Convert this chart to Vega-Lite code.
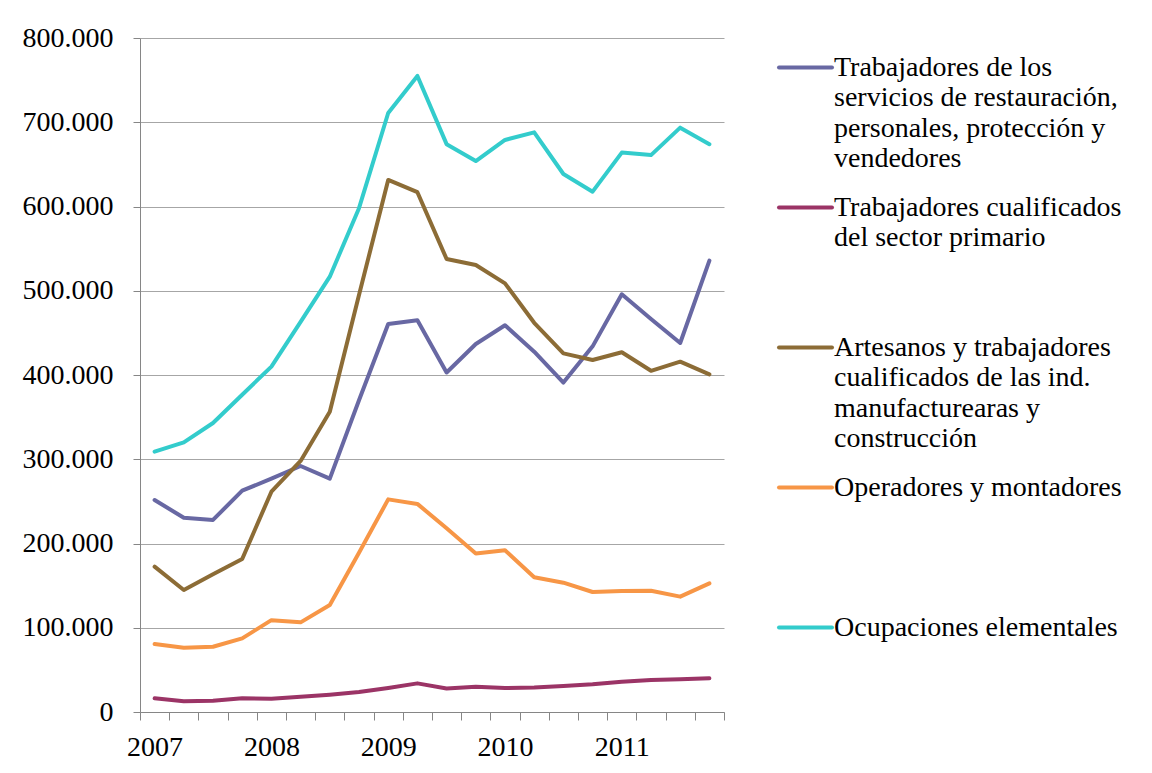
{
  "$schema": "https://vega.github.io/schema/vega-lite/v6.json",
  "width": 584,
  "height": 674,
  "autosize": "none",
  "padding": {"left": 140, "top": 38, "right": 428, "bottom": 61},
  "background": "white",
  "config": {
    "view": {"stroke": null},
    "font": "Liberation Serif"
  },
  "data": {
    "values": [
      {"periodo": "2007T1", "ocupacion": "Trabajadores de los servicios de restauración, personales, protección y vendedores", "ocupados": 251600},
      {"periodo": "2007T2", "ocupacion": "Trabajadores de los servicios de restauración, personales, protección y vendedores", "ocupados": 230600},
      {"periodo": "2007T3", "ocupacion": "Trabajadores de los servicios de restauración, personales, protección y vendedores", "ocupados": 228000},
      {"periodo": "2007T4", "ocupacion": "Trabajadores de los servicios de restauración, personales, protección y vendedores", "ocupados": 262700},
      {"periodo": "2008T1", "ocupacion": "Trabajadores de los servicios de restauración, personales, protección y vendedores", "ocupados": 277000},
      {"periodo": "2008T2", "ocupacion": "Trabajadores de los servicios de restauración, personales, protección y vendedores", "ocupados": 292000},
      {"periodo": "2008T3", "ocupacion": "Trabajadores de los servicios de restauración, personales, protección y vendedores", "ocupados": 277000},
      {"periodo": "2008T4", "ocupacion": "Trabajadores de los servicios de restauración, personales, protección y vendedores", "ocupados": 370000},
      {"periodo": "2009T1", "ocupacion": "Trabajadores de los servicios de restauración, personales, protección y vendedores", "ocupados": 460500},
      {"periodo": "2009T2", "ocupacion": "Trabajadores de los servicios de restauración, personales, protección y vendedores", "ocupados": 465000},
      {"periodo": "2009T3", "ocupacion": "Trabajadores de los servicios de restauración, personales, protección y vendedores", "ocupados": 403000},
      {"periodo": "2009T4", "ocupacion": "Trabajadores de los servicios de restauración, personales, protección y vendedores", "ocupados": 436800},
      {"periodo": "2010T1", "ocupacion": "Trabajadores de los servicios de restauración, personales, protección y vendedores", "ocupados": 459000},
      {"periodo": "2010T2", "ocupacion": "Trabajadores de los servicios de restauración, personales, protección y vendedores", "ocupados": 427700},
      {"periodo": "2010T3", "ocupacion": "Trabajadores de los servicios de restauración, personales, protección y vendedores", "ocupados": 391000},
      {"periodo": "2010T4", "ocupacion": "Trabajadores de los servicios de restauración, personales, protección y vendedores", "ocupados": 434000},
      {"periodo": "2011T1", "ocupacion": "Trabajadores de los servicios de restauración, personales, protección y vendedores", "ocupados": 495800},
      {"periodo": "2011T2", "ocupacion": "Trabajadores de los servicios de restauración, personales, protección y vendedores", "ocupados": 466500},
      {"periodo": "2011T3", "ocupacion": "Trabajadores de los servicios de restauración, personales, protección y vendedores", "ocupados": 438000},
      {"periodo": "2011T4", "ocupacion": "Trabajadores de los servicios de restauración, personales, protección y vendedores", "ocupados": 535700},
      {"periodo": "2007T1", "ocupacion": "Trabajadores cualificados del sector primario", "ocupados": 16200},
      {"periodo": "2007T2", "ocupacion": "Trabajadores cualificados del sector primario", "ocupados": 12700},
      {"periodo": "2007T3", "ocupacion": "Trabajadores cualificados del sector primario", "ocupados": 13400},
      {"periodo": "2007T4", "ocupacion": "Trabajadores cualificados del sector primario", "ocupados": 16200},
      {"periodo": "2008T1", "ocupacion": "Trabajadores cualificados del sector primario", "ocupados": 15800},
      {"periodo": "2008T2", "ocupacion": "Trabajadores cualificados del sector primario", "ocupados": 18200},
      {"periodo": "2008T3", "ocupacion": "Trabajadores cualificados del sector primario", "ocupados": 20600},
      {"periodo": "2008T4", "ocupacion": "Trabajadores cualificados del sector primario", "ocupados": 23700},
      {"periodo": "2009T1", "ocupacion": "Trabajadores cualificados del sector primario", "ocupados": 28500},
      {"periodo": "2009T2", "ocupacion": "Trabajadores cualificados del sector primario", "ocupados": 34000},
      {"periodo": "2009T3", "ocupacion": "Trabajadores cualificados del sector primario", "ocupados": 28000},
      {"periodo": "2009T4", "ocupacion": "Trabajadores cualificados del sector primario", "ocupados": 30000},
      {"periodo": "2010T1", "ocupacion": "Trabajadores cualificados del sector primario", "ocupados": 28500},
      {"periodo": "2010T2", "ocupacion": "Trabajadores cualificados del sector primario", "ocupados": 29000},
      {"periodo": "2010T3", "ocupacion": "Trabajadores cualificados del sector primario", "ocupados": 31000},
      {"periodo": "2010T4", "ocupacion": "Trabajadores cualificados del sector primario", "ocupados": 33000},
      {"periodo": "2011T1", "ocupacion": "Trabajadores cualificados del sector primario", "ocupados": 36000},
      {"periodo": "2011T2", "ocupacion": "Trabajadores cualificados del sector primario", "ocupados": 38000},
      {"periodo": "2011T3", "ocupacion": "Trabajadores cualificados del sector primario", "ocupados": 39000},
      {"periodo": "2011T4", "ocupacion": "Trabajadores cualificados del sector primario", "ocupados": 40000},
      {"periodo": "2007T1", "ocupacion": "Artesanos y trabajadores cualificados de las ind. manufacturearas y construcción", "ocupados": 172500},
      {"periodo": "2007T2", "ocupacion": "Artesanos y trabajadores cualificados de las ind. manufacturearas y construcción", "ocupados": 144800},
      {"periodo": "2007T3", "ocupacion": "Artesanos y trabajadores cualificados de las ind. manufacturearas y construcción", "ocupados": 163400},
      {"periodo": "2007T4", "ocupacion": "Artesanos y trabajadores cualificados de las ind. manufacturearas y construcción", "ocupados": 181600},
      {"periodo": "2008T1", "ocupacion": "Artesanos y trabajadores cualificados de las ind. manufacturearas y construcción", "ocupados": 261500},
      {"periodo": "2008T2", "ocupacion": "Artesanos y trabajadores cualificados de las ind. manufacturearas y construcción", "ocupados": 298000},
      {"periodo": "2008T3", "ocupacion": "Artesanos y trabajadores cualificados de las ind. manufacturearas y construcción", "ocupados": 356500},
      {"periodo": "2008T4", "ocupacion": "Artesanos y trabajadores cualificados de las ind. manufacturearas y construcción", "ocupados": 495000},
      {"periodo": "2009T1", "ocupacion": "Artesanos y trabajadores cualificados de las ind. manufacturearas y construcción", "ocupados": 631500},
      {"periodo": "2009T2", "ocupacion": "Artesanos y trabajadores cualificados de las ind. manufacturearas y construcción", "ocupados": 617000},
      {"periodo": "2009T3", "ocupacion": "Artesanos y trabajadores cualificados de las ind. manufacturearas y construcción", "ocupados": 537700},
      {"periodo": "2009T4", "ocupacion": "Artesanos y trabajadores cualificados de las ind. manufacturearas y construcción", "ocupados": 530600},
      {"periodo": "2010T1", "ocupacion": "Artesanos y trabajadores cualificados de las ind. manufacturearas y construcción", "ocupados": 508800},
      {"periodo": "2010T2", "ocupacion": "Artesanos y trabajadores cualificados de las ind. manufacturearas y construcción", "ocupados": 462000},
      {"periodo": "2010T3", "ocupacion": "Artesanos y trabajadores cualificados de las ind. manufacturearas y construcción", "ocupados": 425700},
      {"periodo": "2010T4", "ocupacion": "Artesanos y trabajadores cualificados de las ind. manufacturearas y construcción", "ocupados": 417800},
      {"periodo": "2011T1", "ocupacion": "Artesanos y trabajadores cualificados de las ind. manufacturearas y construcción", "ocupados": 427000},
      {"periodo": "2011T2", "ocupacion": "Artesanos y trabajadores cualificados de las ind. manufacturearas y construcción", "ocupados": 405000},
      {"periodo": "2011T3", "ocupacion": "Artesanos y trabajadores cualificados de las ind. manufacturearas y construcción", "ocupados": 415800},
      {"periodo": "2011T4", "ocupacion": "Artesanos y trabajadores cualificados de las ind. manufacturearas y construcción", "ocupados": 400800},
      {"periodo": "2007T1", "ocupacion": "Operadores y montadores", "ocupados": 80700},
      {"periodo": "2007T2", "ocupacion": "Operadores y montadores", "ocupados": 76300},
      {"periodo": "2007T3", "ocupacion": "Operadores y montadores", "ocupados": 77500},
      {"periodo": "2007T4", "ocupacion": "Operadores y montadores", "ocupados": 87400},
      {"periodo": "2008T1", "ocupacion": "Operadores y montadores", "ocupados": 109000},
      {"periodo": "2008T2", "ocupacion": "Operadores y montadores", "ocupados": 106400},
      {"periodo": "2008T3", "ocupacion": "Operadores y montadores", "ocupados": 127000},
      {"periodo": "2008T4", "ocupacion": "Operadores y montadores", "ocupados": 189000},
      {"periodo": "2009T1", "ocupacion": "Operadores y montadores", "ocupados": 252400},
      {"periodo": "2009T2", "ocupacion": "Operadores y montadores", "ocupados": 247000},
      {"periodo": "2009T3", "ocupacion": "Operadores y montadores", "ocupados": 218000},
      {"periodo": "2009T4", "ocupacion": "Operadores y montadores", "ocupados": 188000},
      {"periodo": "2010T1", "ocupacion": "Operadores y montadores", "ocupados": 192000},
      {"periodo": "2010T2", "ocupacion": "Operadores y montadores", "ocupados": 160000},
      {"periodo": "2010T3", "ocupacion": "Operadores y montadores", "ocupados": 153500},
      {"periodo": "2010T4", "ocupacion": "Operadores y montadores", "ocupados": 142400},
      {"periodo": "2011T1", "ocupacion": "Operadores y montadores", "ocupados": 143600},
      {"periodo": "2011T2", "ocupacion": "Operadores y montadores", "ocupados": 144000},
      {"periodo": "2011T3", "ocupacion": "Operadores y montadores", "ocupados": 136900},
      {"periodo": "2011T4", "ocupacion": "Operadores y montadores", "ocupados": 152700},
      {"periodo": "2007T1", "ocupacion": "Ocupaciones elementales", "ocupados": 309000},
      {"periodo": "2007T2", "ocupacion": "Ocupaciones elementales", "ocupados": 320000},
      {"periodo": "2007T3", "ocupacion": "Ocupaciones elementales", "ocupados": 343000},
      {"periodo": "2007T4", "ocupacion": "Ocupaciones elementales", "ocupados": 376600},
      {"periodo": "2008T1", "ocupacion": "Ocupaciones elementales", "ocupados": 410000},
      {"periodo": "2008T2", "ocupacion": "Ocupaciones elementales", "ocupados": 463000},
      {"periodo": "2008T3", "ocupacion": "Ocupaciones elementales", "ocupados": 516700},
      {"periodo": "2008T4", "ocupacion": "Ocupaciones elementales", "ocupados": 598000},
      {"periodo": "2009T1", "ocupacion": "Ocupaciones elementales", "ocupados": 711000},
      {"periodo": "2009T2", "ocupacion": "Ocupaciones elementales", "ocupados": 755000},
      {"periodo": "2009T3", "ocupacion": "Ocupaciones elementales", "ocupados": 674000},
      {"periodo": "2009T4", "ocupacion": "Ocupaciones elementales", "ocupados": 654000},
      {"periodo": "2010T1", "ocupacion": "Ocupaciones elementales", "ocupados": 679000},
      {"periodo": "2010T2", "ocupacion": "Ocupaciones elementales", "ocupados": 688000},
      {"periodo": "2010T3", "ocupacion": "Ocupaciones elementales", "ocupados": 638600},
      {"periodo": "2010T4", "ocupacion": "Ocupaciones elementales", "ocupados": 617600},
      {"periodo": "2011T1", "ocupacion": "Ocupaciones elementales", "ocupados": 664000},
      {"periodo": "2011T2", "ocupacion": "Ocupaciones elementales", "ocupados": 661000},
      {"periodo": "2011T3", "ocupacion": "Ocupaciones elementales", "ocupados": 693600},
      {"periodo": "2011T4", "ocupacion": "Ocupaciones elementales", "ocupados": 674000}
    ]
  },
  "mark": {"type": "line", "strokeWidth": 4, "strokeCap": "round", "strokeJoin": "round"},
  "encoding": {
    "x": {
      "field": "periodo",
      "type": "ordinal",
      "bandPosition": 0.5,
      "scale": {"type": "band", "paddingInner": 0, "paddingOuter": 0},
      "axis": {
        "title": null,
        "grid": false,
        "tickBand": "extent",
        "tickExtra": true,
        "labelExpr": "indexof(datum.label, 'T1') >= 0 ? slice(datum.label, 0, 4) : ''",
        "labelAngle": 0,
        "labelAlign": "center",
        "labelBaseline": "top",
        "labelOverlap": false,
        "labelFont": "Liberation Serif",
        "labelFontSize": 28,
        "labelColor": "#000000",
        "labelPadding": 13,
        "tickSize": 8,
        "tickColor": "#868686",
        "domainColor": "#868686"
      }
    },
    "y": {
      "field": "ocupados",
      "type": "quantitative",
      "scale": {"domain": [0, 800000], "nice": false, "zero": true},
      "axis": {
        "title": null,
        "values": [0, 100000, 200000, 300000, 400000, 500000, 600000, 700000, 800000],
        "labelExpr": "replace(format(datum.value, ','), ',', '.')",
        "labelFont": "Liberation Serif",
        "labelFontSize": 28,
        "labelColor": "#000000",
        "labelPadding": 20,
        "tickSize": 7,
        "tickColor": "#868686",
        "domainColor": "#868686",
        "gridColor": "#a6a6a6",
        "gridWidth": 1
      }
    },
    "color": {
      "field": "ocupacion",
      "type": "nominal",
      "sort": [
        "Trabajadores de los servicios de restauración, personales, protección y vendedores",
        "Trabajadores cualificados del sector primario",
        "Artesanos y trabajadores cualificados de las ind. manufacturearas y construcción",
        "Operadores y montadores",
        "Ocupaciones elementales"
      ],
      "scale": {
        "domain": [
          "Trabajadores de los servicios de restauración, personales, protección y vendedores",
          "Trabajadores cualificados del sector primario",
          "Artesanos y trabajadores cualificados de las ind. manufacturearas y construcción",
          "Operadores y montadores",
          "Ocupaciones elementales"
        ],
        "range": ["#6868A3", "#9B3466", "#8C6C36", "#F79646", "#33CCCC"]
      },
      "legend": {
        "title": null,
        "orient": "none",
        "legendX": 637,
        "legendY": 1,
        "padding": 0,
        "symbolType": "stroke",
        "symbolSize": 2809,
        "symbolStrokeWidth": 4,
        "labelFont": "Liberation Serif",
        "labelFontSize": 28,
        "labelColor": "#000000",
        "labelLimit": 420,
        "labelOffset": 0,
        "labelBaseline": "line-top",
        "gridAlign": "all",
        "rowPadding": 6,
        "labelExpr": "datum.label == 'Trabajadores de los servicios de restauración, personales, protección y vendedores' ? ['Trabajadores de los', 'servicios de restauración,', 'personales, protección y', 'vendedores'] : datum.label == 'Trabajadores cualificados del sector primario' ? ['Trabajadores cualificados', 'del sector primario'] : datum.label == 'Artesanos y trabajadores cualificados de las ind. manufacturearas y construcción' ? ['Artesanos y trabajadores', 'cualificados de las ind.', 'manufacturearas y', 'construcción'] : datum.label",
        "encoding": {
          "labels": {"lineHeight": {"value": 30.5}, "dy": {"value": -15}},
          "symbols": {"strokeCap": {"value": "round"}}
        }
      }
    }
  }
}
